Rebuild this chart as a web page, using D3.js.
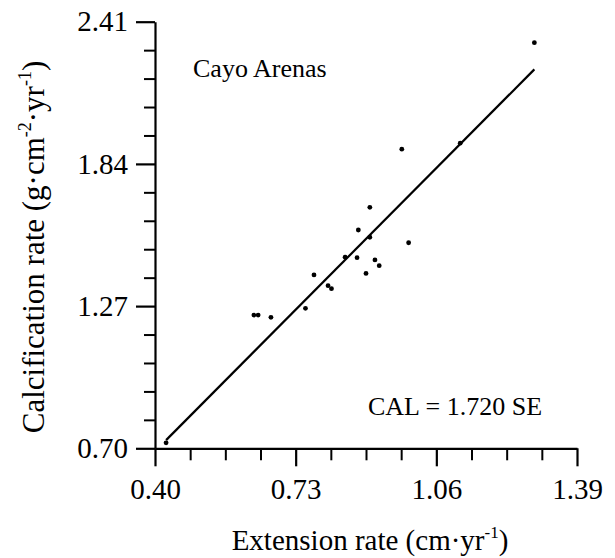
<!DOCTYPE html>
<html>
<head>
<meta charset="utf-8">
<script src="https://cdn.jsdelivr.net/npm/d3@7"></script>
<style>
  html, body { margin: 0; padding: 0; background: #fff; }
  svg { display: block; }
  text { font-family: "Liberation Serif", "Times New Roman", serif; fill: #000; }
</style>
</head>
<body>
<svg id="chart" width="615" height="558"></svg>
<script>
// ---- data ----
const extensionRate = [1.290, 0.979, 1.116, 0.904, 0.877, 0.904, 0.995, 0.846, 0.874, 0.916,
                       0.926, 0.895, 0.773, 0.806, 0.814, 0.753, 0.632, 0.642, 0.672, 0.426];
const calcificationRate = [2.326, 1.899, 1.923, 1.666, 1.575, 1.546, 1.524, 1.466, 1.464, 1.455,
                           1.432, 1.401, 1.395, 1.352, 1.340, 1.261, 1.234, 1.234, 1.225, 0.722];
const xTickValues = [0.40, 0.73, 1.06, 1.39];
const yTickValues = [0.70, 1.27, 1.84, 2.41];
const xMinorPerMajor = 4;
const yMinorPerMajor = 5;
const slope = 1.720;
const siteLabel = "Cayo Arenas";
const equationLabel = "CAL = 1.720 SE";

// ---- layout ----
const svg = d3.select("#chart");
const mLeft = 155, mRight = 577, mTop = 21.7, mBottom = 448.3;

const x = d3.scaleLinear().domain([xTickValues[0], xTickValues[xTickValues.length - 1]]).range([mLeft, mRight]);
const y = d3.scaleLinear().domain([yTickValues[0], yTickValues[yTickValues.length - 1]]).range([mBottom, mTop]);

function minorTicks(major, n) {
  const out = [];
  for (let i = 0; i < major.length - 1; i++) {
    const step = (major[i + 1] - major[i]) / n;
    for (let j = 1; j < n; j++) out.push(major[i] + j * step);
  }
  return out;
}

// minor ticks
svg.append("g")
  .attr("transform", `translate(0,${mBottom})`)
  .call(d3.axisBottom(x).tickValues(minorTicks(xTickValues, xMinorPerMajor)).tickSize(12).tickSizeOuter(0).tickFormat(""))
  .call(g => g.select(".domain").remove())
  .call(g => g.selectAll("line").attr("stroke", "#000").attr("stroke-width", 2));

svg.append("g")
  .attr("transform", `translate(${mLeft},0)`)
  .call(d3.axisLeft(y).tickValues(minorTicks(yTickValues, yMinorPerMajor)).tickSize(11).tickSizeOuter(0).tickFormat(""))
  .call(g => g.select(".domain").remove())
  .call(g => g.selectAll("line").attr("stroke", "#000").attr("stroke-width", 2));

// major axes
const xAxis = svg.append("g")
  .attr("transform", `translate(0,${mBottom})`)
  .call(d3.axisBottom(x).tickValues(xTickValues).tickSize(18).tickSizeOuter(0).tickPadding(12).tickFormat(d3.format(".2f")));
xAxis.select(".domain").attr("stroke", "#000").attr("stroke-width", 2.2);
xAxis.selectAll("line").attr("stroke", "#000").attr("stroke-width", 2.2);
xAxis.selectAll("text").attr("font-size", 29).attr("font-family", "Liberation Serif").attr("dy", "0.72em").attr("y", 30).attr("fill", "#000");

const yAxis = svg.append("g")
  .attr("transform", `translate(${mLeft},0)`)
  .call(d3.axisLeft(y).tickValues(yTickValues).tickSize(19).tickSizeOuter(0).tickPadding(8).tickFormat(d3.format(".2f")));
yAxis.select(".domain").attr("stroke", "#000").attr("stroke-width", 2.2);
yAxis.selectAll("line").attr("stroke", "#000").attr("stroke-width", 2.2);
yAxis.selectAll("text").attr("font-size", 29).attr("font-family", "Liberation Serif").attr("fill", "#000");

// regression line
const ext = d3.extent(extensionRate);
const lineGen = d3.line().x(d => x(d)).y(d => y(slope * d));
svg.append("path")
  .attr("d", lineGen(ext))
  .attr("fill", "none")
  .attr("stroke", "#000")
  .attr("stroke-width", 2.2);

// points
svg.append("g").selectAll("circle")
  .data(extensionRate.map((v, i) => [v, calcificationRate[i]]))
  .join("circle")
  .attr("cx", d => x(d[0]))
  .attr("cy", d => y(d[1]))
  .attr("r", 2.4)
  .attr("fill", "#000");

// annotations
svg.append("text").attr("x", 193).attr("y", 77).attr("font-size", 26).text(siteLabel);
svg.append("text").attr("x", 368).attr("y", 415).attr("font-size", 26).text(equationLabel);

// axis titles
const xt = svg.append("text").attr("x", (mLeft + mRight) / 2 + 4).attr("y", 550)
  .attr("text-anchor", "middle").attr("font-size", 29);
xt.append("tspan").text("Extension rate (cm·yr");
xt.append("tspan").attr("font-size", 17).attr("dy", -12).text("-1");
xt.append("tspan").attr("dy", 12).text(")");

const yt = svg.append("text")
  .attr("transform", `translate(44,${(mTop + mBottom) / 2 + 12}) rotate(-90)`)
  .attr("text-anchor", "middle").attr("font-size", 31);
yt.append("tspan").text("Calcification rate (g·cm");
yt.append("tspan").attr("font-size", 18).attr("dy", -13).text("-2");
yt.append("tspan").attr("dy", 13).text("·yr");
yt.append("tspan").attr("font-size", 18).attr("dy", -13).text("-1");
yt.append("tspan").attr("dy", 13).text(")");
</script>
</body>
</html>
